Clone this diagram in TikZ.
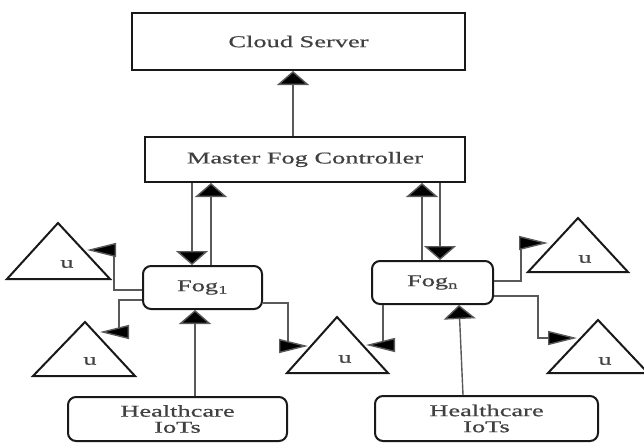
\documentclass[tikz,border=0pt]{standalone}
\usepackage{fontspec}
\setmainfont[FakeStretch=1.6,FakeBold=0.6]{Liberation Serif}
\usetikzlibrary{arrows.meta}
\tikzset{
  lbl/.style={text=black!75,font=\fontsize{16.5}{16}\selectfont},
  sqbox/.style={draw=black!90,line width=2pt,inner sep=0pt,lbl,align=center},
  rbox/.style={sqbox,rounded corners=8pt},
  tri/.style={draw=black!90,line width=2pt,line join=miter},
  conn/.style={draw=black!65,line width=1.4pt},
  varr/.style={conn,-{Triangle[length=14pt,width=32pt,fill=black]}},
  harr/.style={conn,-{Triangle[length=29pt,width=14pt,fill=black]}},
}
\begin{document}
\begin{tikzpicture}[x=1pt,y=-1pt]
\useasboundingbox (0,0) rectangle (644,445);
\clip (0,0) rectangle (644,445);
\fill[white] (0,0) rectangle (644,445);
% boxes
\node[sqbox,minimum width=333pt,minimum height=57pt] (cloud) at (298.5,41.5) {Cloud Server};
\node[sqbox,minimum width=320pt,minimum height=45pt] (mfc) at (305,159.5) {Master Fog Controller};
\node[rbox,minimum width=119pt,minimum height=43pt] (fog1) at (202.5,287.5) {Fog\textsubscript{1}};
\node[rbox,minimum width=121pt,minimum height=43pt] (fogn) at (432.5,282.5) {Fog\textsubscript{n}};
\node[rbox,minimum width=219pt,minimum height=44pt] (hiot1) at (177.5,419) {Healthcare\\IoTs};
\node[rbox,minimum width=223pt,minimum height=45pt] (hiot2) at (486.5,418.5) {Healthcare\\IoTs};
% triangles
\draw[tri] (58,223) -- (7,279) -- (110,279) -- cycle;
\node[lbl] (utl) at (67,264) {u};
\draw[tri] (85,322) -- (33,376) -- (135,376) -- cycle;
\node[lbl] (ubl) at (90,361) {u};
\draw[tri] (337,317) -- (287,373) -- (388,373) -- cycle;
\node[lbl] (um) at (345,359) {u};
\draw[tri] (578,218) -- (528,272) -- (628,272) -- cycle;
\node[lbl] (utr) at (585,259) {u};
\draw[tri] (598,320) -- (548,373) -- (648,373) -- cycle;
\node[lbl] (ubr) at (605,361) {u};
% arrow targets on triangles
\coordinate (tlin) at (87,250);
\coordinate (blin) at (100,332);
\coordinate (min1) at (308,346);
\coordinate (min2) at (366,345);
\coordinate (trin) at (548,243);
\coordinate (brin) at (577,338);
% connectors
\draw[varr] ([xshift=-12pt]mfc.north) -- ([xshift=-5.5pt]cloud.south);
\draw[varr] ([xshift=-113pt]mfc.south) -- ([xshift=-10.5pt]fog1.north);
\draw[varr] ([xshift=8.5pt]fog1.north) -- ([xshift=-94pt]mfc.south);
\draw[varr] ([xshift=-10.5pt]fogn.north) -- ([xshift=117pt]mfc.south);
\draw[varr] ([xshift=135pt]mfc.south) -- ([xshift=7.5pt]fogn.north);
\draw[harr] ([yshift=-2.5pt]fog1.west) -- ++(-28,0) |- (tlin);
\draw[harr] ([yshift=-12.5pt]fog1.west) -- ++(-23,0) |- (blin);
\draw[harr] ([yshift=-15.5pt]fog1.east) -- ++(25,0) |- (min1);
\draw[harr] ([xshift=-49.5pt]fogn.south) |- (min2);
\draw[harr] ([yshift=1.5pt]fogn.east) -- ++(27,0) |- (trin);
\draw[harr] ([yshift=-13.5pt]fogn.east) -- ++(44,0) |- (brin);
\draw[varr] ([xshift=17.5pt]hiot1.north) -- ([xshift=-7.5pt]fog1.south);
\draw[varr] ([xshift=-23.5pt]hiot2.north) -- ([xshift=26.5pt]fogn.south);
\end{tikzpicture}
\end{document}
